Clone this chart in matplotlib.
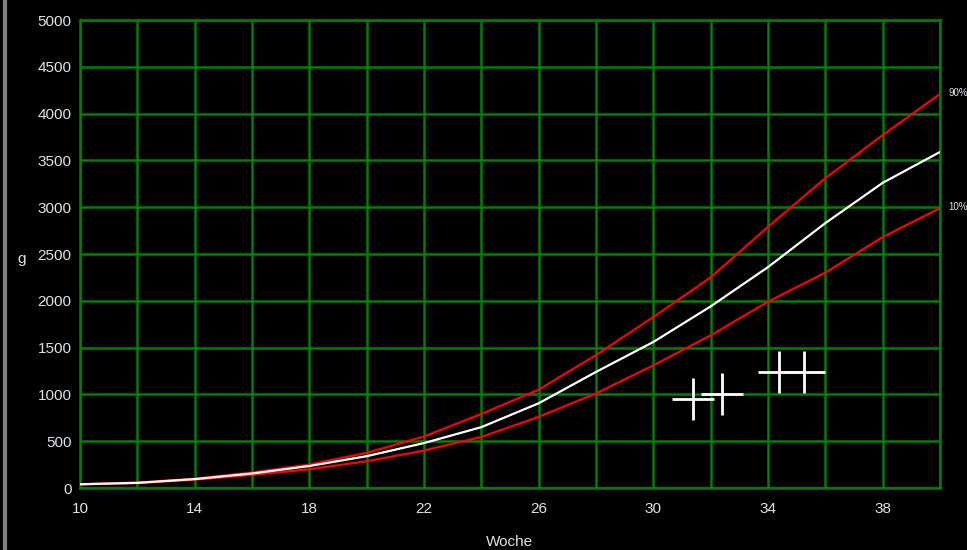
import matplotlib.pyplot as plt
import numpy as np

plt.rcParams['font.family'] = ['Liberation Sans', 'DejaVu Sans']

# Schwangerschaftswoche
woche = [10, 12, 14, 16, 18, 20, 22, 24, 26, 28, 30, 32, 34, 36, 38, 40]
# Perzentilen Gewicht (g)
p90 = [40, 58, 100, 165, 250, 375, 550, 790, 1050, 1420, 1826, 2250, 2790, 3310, 3770, 4210]
p50 = [40, 55, 95, 155, 235, 340, 480, 650, 905, 1240, 1560, 1940, 2360, 2830, 3260, 3590]
p10 = [38, 52, 88, 140, 200, 285, 400, 545, 760, 1010, 1310, 1630, 1990, 2300, 2680, 2990]

# Messungen
mess_woche = [31.4, 32.4, 34.4, 35.25]
mess_gewicht = [950, 1000, 1240, 1240]

txt = '#dde3ea'
gruen = '#008000'

fig = plt.figure(figsize=(9.67, 5.5), dpi=100, facecolor='black')
ax = fig.add_axes([80/967, 62/550, 860/967, 468/550])
ax.set_facecolor('black')

ax.plot(woche, p90, color='#ff0000', lw=1.6, zorder=3)
ax.plot(woche, p10, color='#ff0000', lw=1.6, zorder=3)
ax.plot(woche, p50, color='white', lw=1.6, zorder=4)
ax.plot(mess_woche, mess_gewicht, ls='none', marker='+', markersize=30,
        markeredgewidth=2, color='white', zorder=5)

ax.set_xlim(10, 40)
ax.set_ylim(0, 5000)
ax.set_xticks(np.arange(10, 41, 2), minor=True)
ax.set_xticks(np.arange(10, 39, 4))
ax.set_yticks(np.arange(0, 5001, 500))
ax.grid(True, which='both', color=gruen, lw=1.8, zorder=1)
ax.tick_params(which='both', length=0, colors=txt, labelsize=11)
ax.tick_params(axis='y', pad=6)
ax.tick_params(axis='x', pad=10)
for s in ax.spines.values():
    s.set_color(gruen)
    s.set_linewidth(1.8)

ax.set_xlabel('Woche', color=txt, fontsize=11)
ax.xaxis.set_label_coords(0.5, -0.1)
ax.set_ylabel('g', color=txt, fontsize=11, rotation=0)
ax.yaxis.set_label_coords(-0.068, 0.475)

ax.text(40.3, 4220, '90%', color=txt, fontsize=7, va='center', clip_on=False)
ax.text(40.3, 3000, '10%', color=txt, fontsize=7, va='center', clip_on=False)

# grauer Fensterrand links
fig.add_artist(plt.Line2D([5/967, 5/967], [0, 1], color='#808080', lw=3))

fig.savefig('out.png', dpi=100, facecolor='black')
